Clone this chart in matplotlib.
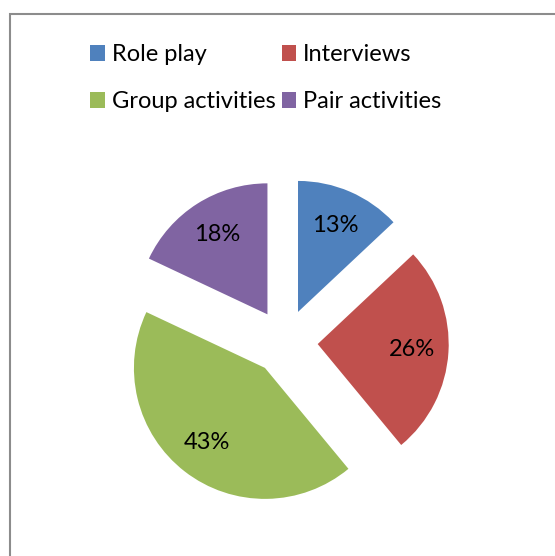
import matplotlib
matplotlib.use("Agg")
import matplotlib.pyplot as plt
from matplotlib.patches import Rectangle, Patch

# chart data
categories = ["Role play", "Interviews", "Group activities", "Pair activities"]
shares = [13, 26, 43, 18]
colors = ["#4F81BD", "#C0504D", "#9BBB59", "#8064A2"]

plt.rcParams["font.family"] = ["Lato", "DejaVu Sans"]

W, H = 555, 556
fig = plt.figure(figsize=(W / 100, H / 100), dpi=100)

# gray chart-area border (right and bottom run off the picture)
fig.patches.append(Rectangle((9.5 / W, -0.1), 1.2, 1.1 - 13.5 / H,
                             transform=fig.transFigure, fill=False,
                             edgecolor="#8c8c8c", linewidth=1.5))

# pie axes: centre at (285, 342) px, radius ~131 px
cx, cy, r, half = 285, 342, 131, 200
ax = fig.add_axes([(cx - half) / W, (H - cy - half) / H,
                   2 * half / W, 2 * half / H])
wedges, texts, autotexts = ax.pie(
    shares, colors=colors, startangle=90, counterclock=False,
    explode=[0.25] * len(shares), autopct="%d%%", pctdistance=0.72,
    textprops={"fontsize": 17, "color": "black"})
lim = half / r
ax.set_xlim(-lim, lim)
ax.set_ylim(-lim, lim)
ax.set_aspect("equal")
ax.axis("off")

# legend is filled row by row in the original, matplotlib fills by column
handles = [Patch(facecolor=c, edgecolor="none") for c in colors]
order = [0, 2, 1, 3]
fig.legend([handles[i] for i in order], [categories[i] for i in order],
           ncol=2, loc="upper left",
           bbox_to_anchor=(69 / W, 1 - 23 / H), frameon=False,
           fontsize=17, handlelength=0.62, handleheight=0.62,
           handletextpad=0.3, columnspacing=0.25, labelspacing=1.1)

fig.savefig("out.png", dpi=100)
